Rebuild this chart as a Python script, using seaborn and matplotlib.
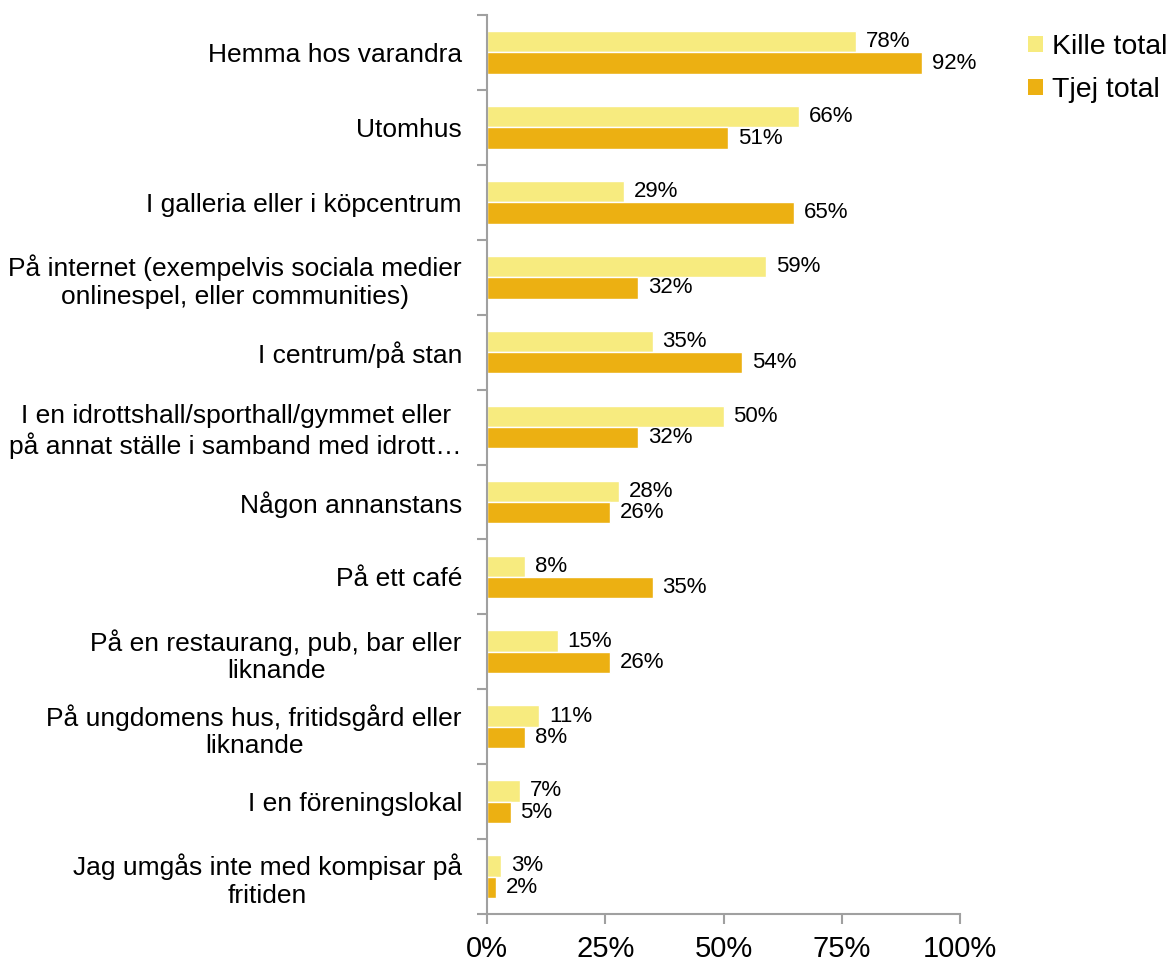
import matplotlib
matplotlib.use("Agg")
import matplotlib.pyplot as plt
from matplotlib.patches import Patch
from matplotlib.ticker import FixedLocator
import pandas as pd
import seaborn as sns

# Chart data
platser = [
    "Hemma hos varandra",
    "Utomhus",
    "I galleria eller i köpcentrum",
    "På internet (exempelvis sociala medier\nonlinespel, eller communities)",
    "I centrum/på stan",
    "I en idrottshall/sporthall/gymmet eller\npå annat ställe i samband med idrott…",
    "Någon annanstans",
    "På ett café",
    "På en restaurang, pub, bar eller\nliknande",
    "På ungdomens hus, fritidsgård eller\nliknande",
    "I en föreningslokal",
    "Jag umgås inte med kompisar på\nfritiden",
]
kille = [78, 66, 29, 59, 35, 50, 28, 8, 15, 11, 7, 3]
tjej = [92, 51, 65, 32, 54, 32, 26, 35, 26, 8, 5, 2]
grupper = ["Kille total", "Tjej total"]
x_ticks = [0, 25, 50, 75, 100]

# Long format for seaborn
df = pd.concat([
    pd.DataFrame({"plats": platser, "andel": kille, "grupp": grupper[0]}),
    pd.DataFrame({"plats": platser, "andel": tjej, "grupp": grupper[1]}),
])

sns.set_style("white")
plt.rcParams["font.family"] = ["Liberation Sans", "DejaVu Sans"]
plt.rcParams["text.color"] = "black"
plt.rcParams["xtick.color"] = "black"
plt.rcParams["ytick.color"] = "black"

colors = ["#F7EB7F", "#ECB012"]
axis_grey = "#A0A0A0"

fig = plt.figure(figsize=(11.73, 9.61), dpi=100)
ax = fig.add_axes([487 / 1173, 1 - 914 / 961, (960 - 487) / 1173, (914 - 15) / 961])

sns.barplot(data=df, x="andel", y="plats", hue="grupp", orient="h",
            palette=colors, width=0.57, saturation=1, legend=False, ax=ax)

# Value labels next to each bar
for cont, vals in zip(ax.containers, [kille, tjej]):
    ax.bar_label(cont, labels=[f"{v}%" for v in vals], padding=7, fontsize=16,
                 color="black")

ax.set_xlim(0, 100)
ax.set_ylim(len(platser) - 0.5, -0.5)
ax.set_xticks(x_ticks)
ax.set_xticklabels([f"{t}%" for t in x_ticks], fontsize=21)
ax.set_xlabel("")
ax.set_ylabel("")

# Category labels, centered lines, right aligned to the axis
ax.set_yticks(range(len(platser)))
ax.set_yticklabels(platser, fontsize=19, multialignment="center")
ax.tick_params(axis="y", which="major", length=0, pad=18)
ax.yaxis.set_minor_locator(FixedLocator([i - 0.5 for i in range(len(platser) + 1)]))
ax.tick_params(axis="y", which="minor", length=7, width=1.5, color=axis_grey, left=True)
ax.tick_params(axis="x", which="major", length=7, width=1.5, color=axis_grey,
               labelcolor="black", bottom=True, pad=8)

for side in ["top", "right"]:
    ax.spines[side].set_visible(False)
for side in ["left", "bottom"]:
    ax.spines[side].set_color(axis_grey)
    ax.spines[side].set_linewidth(1.5)

# Legend
handles = [Patch(facecolor=c, edgecolor="none") for c in colors]
fig.legend(handles, grupper, loc="upper left", bbox_to_anchor=(1028 / 1173, 1 - 34 / 961),
           frameon=False, fontsize=20.5, handlelength=0.53, handleheight=0.53,
           handletextpad=0.32, labelspacing=0.6, borderaxespad=0, borderpad=0)

fig.savefig("out.png", dpi=100)
